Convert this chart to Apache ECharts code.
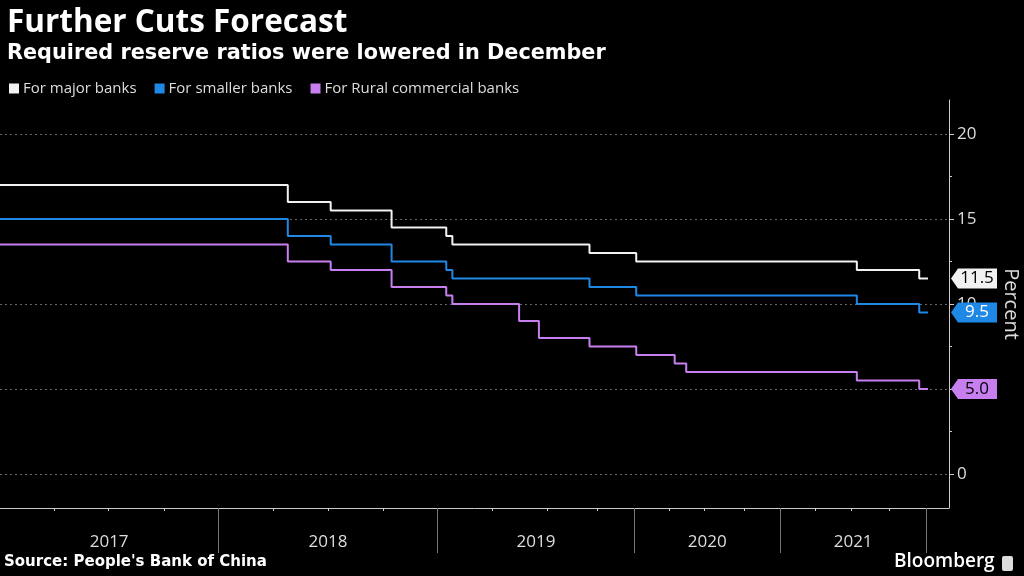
<!DOCTYPE html>
<html>
<head>
<meta charset="UTF-8"/>
<script src="https://cdn.jsdelivr.net/npm/echarts@6/dist/echarts.min.js"></script>
<style type="text/css">
	html, body { margin:0; padding:0; background:#000; }
	#chart { width:1024px; height:576px; }
</style>
</head>
<body>
<div id="chart"></div>
<script type="text/javascript">

// dates when the ratio changed, value holds until the next date
var changeDates = ['2017-01-01','2018-04-25','2018-07-05','2018-10-15','2019-01-15','2019-01-25','2019-09-16','2020-01-06','2021-07-15','2021-12-15','2022-01-06'];
var majorBanks   = [17, 16, 15.5, 14.5, 14, 13.5, 13, 12.5, 12, 11.5, 11.5];
var smallerBanks = [15, 14, 13.5, 12.5, 12, 11.5, 11, 10.5, 10, 9.5, 9.5];

var ruralDates = ['2017-01-01','2018-04-25','2018-07-05','2018-10-15','2019-01-15','2019-01-25','2019-05-15','2019-06-17','2019-09-16','2020-01-06','2020-04-15','2020-05-15','2021-07-15','2021-12-15','2022-01-06'];
var ruralBanks = [13.5, 12.5, 12, 11, 10.5, 10, 9, 8, 7.5, 7, 6.5, 6, 5.5, 5, 5];

var seriesNames = ['For major banks', 'For smaller banks', 'For Rural commercial banks'];
var years = ['2017', '2018', '2019', '2020', '2021'];
var yTicks = [0, 5, 10, 15, 20];
var yMinorTicks = [0, 2.5, 5, 7.5, 10, 12.5, 15, 17.5, 20];

// the source chart squeezes later quarters: start of each quarter on its x scale (2017Q1 .. 2022Q1)
var quarterStops = [0, 54.3, 108.7, 164, 218.3, 273.3, 328.3, 383.3, 437.7, 492.7, 547.3, 597.7, 634.3, 669.3, 704.3, 744.3, 780.3, 815.3, 851, 889.3, 926];
var xMax = 949;

function toAxis(str){
	var p = str.split('-');
	var y = +p[0], m = +p[1] - 1, d = +p[2];
	var q = Math.floor(m / 3);
	var qi = (y - 2017) * 4 + q;
	var t0 = Date.UTC(y, q * 3, 1);
	var t1 = Date.UTC(y, q * 3 + 3, 1);
	var frac = (Date.UTC(y, m, d) - t0) / (t1 - t0);
	var a = quarterStops[qi];
	var b = qi + 1 < quarterStops.length ? quarterStops[qi + 1] : a + (a - quarterStops[qi - 1]);
	return a + frac * (b - a);
}

function pairs(dates, vals){
	var out = [];
	for(var i = 0; i < dates.length; i++){
		out.push([toAxis(dates[i]), vals[i]]);
	}
	return out;
}

var yearStops = [], yearMids = [];
for(var i = 0; i < years.length; i++){
	yearStops.push(quarterStops[i * 4 + 4]);
	yearMids.push((quarterStops[i * 4] + quarterStops[i * 4 + 4]) / 2);
}

var FONT = '"Open Sans", sans-serif';
var WIDE = '"DejaVu Sans", sans-serif';
var colors = ['#f2f2f2', '#1f88e5', '#c77ff0'];
var tagText = ['#000', '#fff', '#000'];
var lastVals = [majorBanks[majorBanks.length - 1], smallerBanks[smallerBanks.length - 1], ruralBanks[ruralBanks.length - 1]];
var seriesData = [pairs(changeDates, majorBanks), pairs(changeDates, smallerBanks), pairs(ruralDates, ruralBanks)];

var series = [];
for(var k = 0; k < 3; k++){
	series.push({
		name: seriesNames[k],
		type: 'line',
		step: 'end',
		showSymbol: false,
		xAxisIndex: 0,
		yAxisIndex: 0,
		data: seriesData[k],
		lineStyle: { color: colors[k], width: 2 },
		itemStyle: { color: colors[k] },
		z: 3 - k + 2,
		markPoint: {
			symbol: 'path://M0,10L7,0L46,0L46,20L7,20Z',
			symbolSize: [46, 20],
			symbolOffset: [25, 0],
			itemStyle: { color: colors[k] },
			label: {
				show: true,
				position: 'inside',
				offset: [3, 0],
				color: tagText[k],
				fontFamily: FONT,
				fontSize: 17,
				formatter: lastVals[k].toFixed(1)
			},
			data: [{ coord: [xMax, lastVals[k]] }]
		}
	});
}

var chart = echarts.init(document.getElementById('chart'));
chart.setOption({
	animation: false,
	backgroundColor: '#000',
	title: [{
		text: 'Further Cuts Forecast',
		left: 2, top: 2,
		textStyle: { color: '#fff', fontFamily: FONT, fontWeight: 'bold', fontSize: 31.5 }
	}, {
		text: 'Required reserve ratios were lowered in December',
		left: 2, top: 38,
		textStyle: { color: '#fff', fontFamily: WIDE, fontWeight: 'bold', fontSize: 20.8 }
	}],
	legend: {
		left: 4, top: 76,
		icon: 'rect',
		itemWidth: 10, itemHeight: 10,
		itemGap: 18,
		textStyle: { color: '#ddd', fontFamily: FONT, fontSize: 15, padding: [0, 0, 0, -1] },
		data: seriesNames
	},
	grid: { left: 0, right: 1024 - xMax, top: 100, bottom: 68, outerBoundsMode: 'none', containLabel: false },
	xAxis: [{
		type: 'value', min: 0, max: xMax,
		axisLine: { onZero: false, lineStyle: { color: '#ccc', width: 1 } },
		axisTick: { customValues: quarterStops.slice(1), length: 3, lineStyle: { color: '#ccc' } },
		axisLabel: { show: false },
		splitLine: { show: false }
	}, {
		type: 'value', min: 0, max: xMax, position: 'bottom',
		axisLine: { show: false, onZero: false },
		axisTick: { customValues: yearStops, length: 45, lineStyle: { color: '#777' } },
		axisLabel: {
			customValues: yearMids,
			margin: 26,
			color: '#ddd', fontFamily: FONT, fontSize: 17,
			formatter: function(v){
				for(var i = 0; i < yearMids.length; i++){
					if(Math.abs(yearMids[i] - v) < 1) return years[i];
				}
				return '';
			}
		},
		splitLine: { show: false }
	}],
	yAxis: [{
		type: 'value', min: -2, max: 22, position: 'right',
		name: 'Percent', nameLocation: 'middle', nameRotate: -90, nameGap: 52,
		nameTextStyle: { color: '#ddd', fontFamily: FONT, fontSize: 20 },
		axisLine: { show: true, onZero: false, lineStyle: { color: '#ccc' } },
		axisTick: { customValues: yMinorTicks, length: 3, lineStyle: { color: '#ccc' } },
		axisLabel: { show: false },
		splitLine: { show: false }
	}, {
		type: 'value', min: -2, max: 22, position: 'right',
		axisLine: { show: false, onZero: false },
		axisTick: { customValues: yTicks, length: 5, lineStyle: { color: '#ccc' } },
		axisLabel: { customValues: yTicks, margin: 8, color: '#ddd', fontFamily: FONT, fontSize: 17 },
		splitLine: { show: true, lineStyle: { color: '#666', type: [2, 3], width: 1 } }
	}],
	graphic: [{
		type: 'text', left: 4, top: 555,
		style: { text: "Source: People's Bank of China", fill: '#fff', font: 'bold 15px ' + WIDE }
	}, {
		type: 'text', left: 894, top: 552,
		style: { text: 'Bloomberg', fill: '#fff', font: '600 19px ' + FONT }
	}, {
		type: 'rect', left: 1002, top: 556, shape: { width: 11, height: 15, r: 2 },
		style: { fill: '#ddd' }
	}],
	series: series
});
</script>
</body>
</html>
